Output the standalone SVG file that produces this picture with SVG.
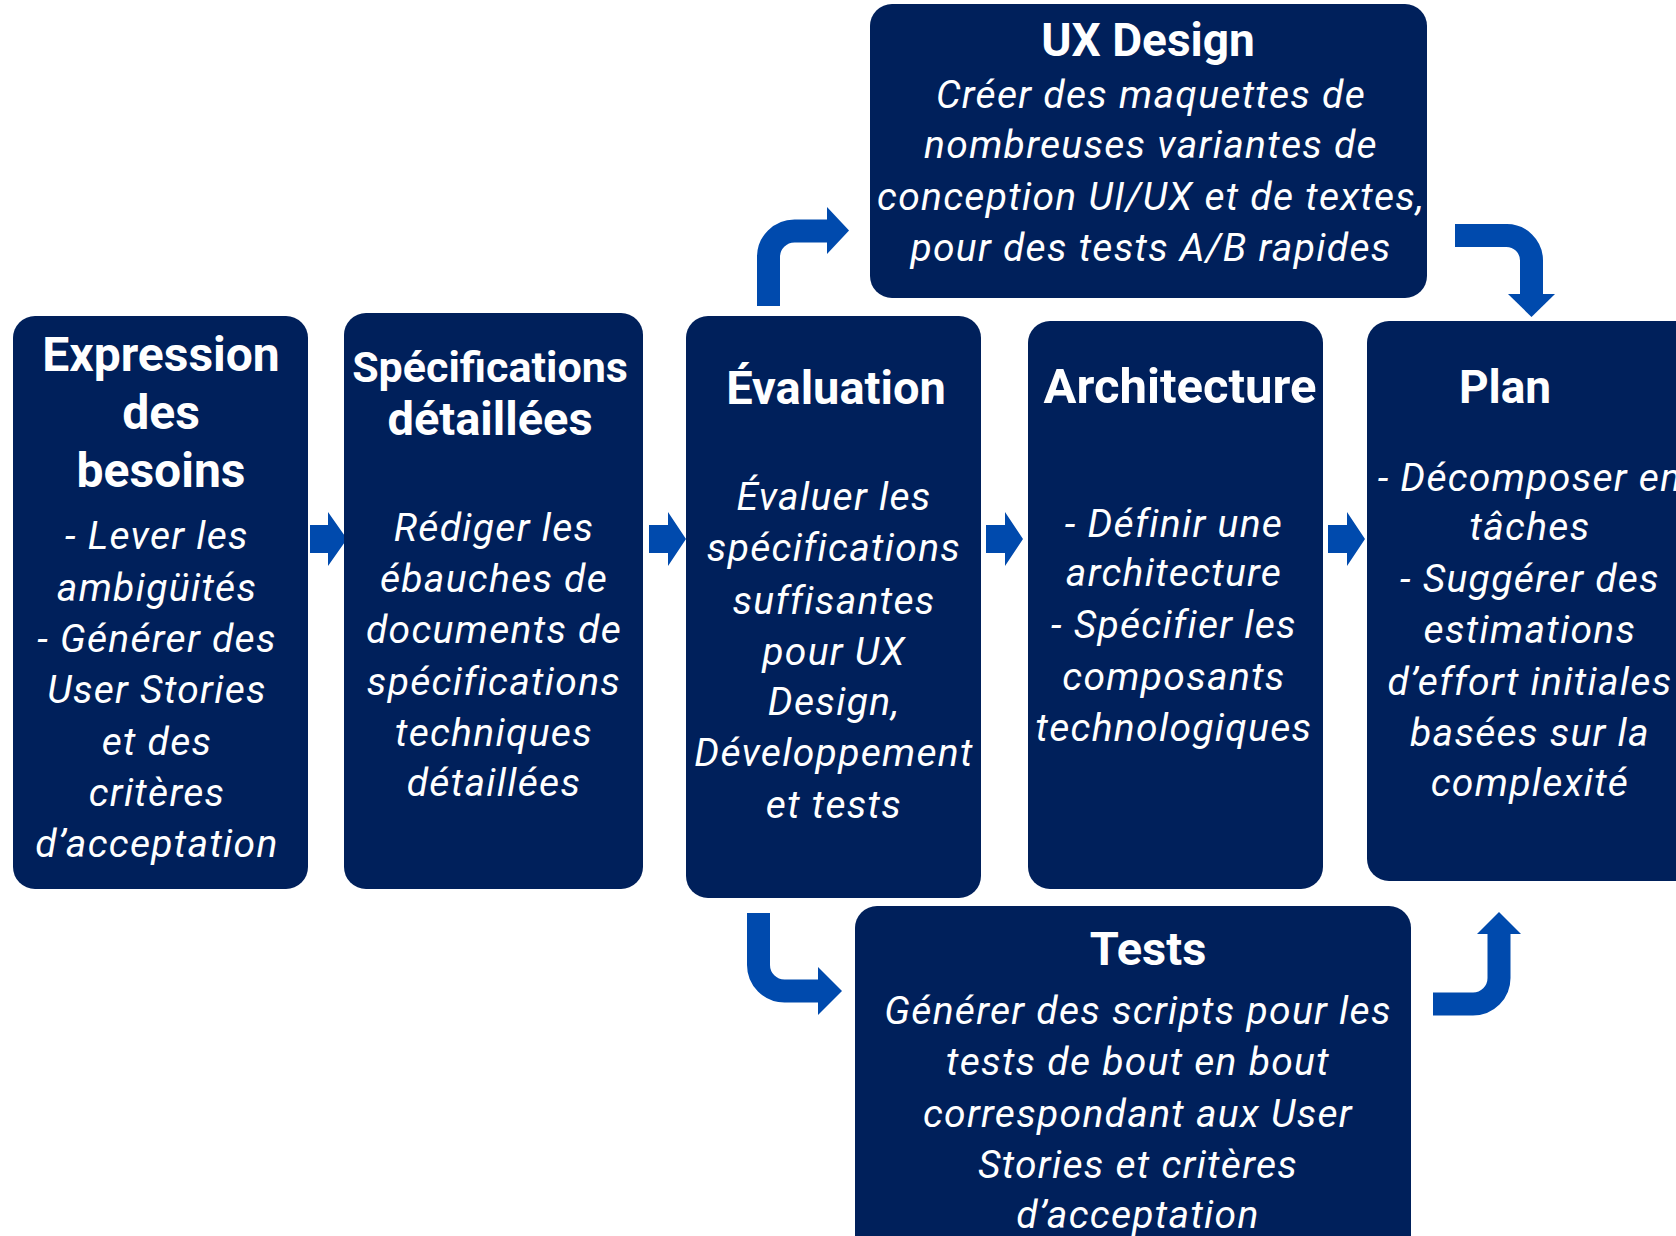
<svg xmlns="http://www.w3.org/2000/svg" width="1676" height="1236" viewBox="0 0 1676 1236">
<defs>
<style>
.box{fill:#00205B;}
.t{font-family:Roboto,"Liberation Sans",sans-serif;font-weight:700;fill:#fff;text-anchor:middle;}
.b{font-family:Roboto,"Liberation Sans",sans-serif;font-style:italic;font-weight:400;font-size:39px;letter-spacing:1.3px;fill:#fff;text-anchor:middle;}
.ar{fill:#004AAD;}
.ab{fill:none;stroke:#004AAD;stroke-width:23;}
</style>
</defs>
<rect width="1676" height="1236" fill="#fff"/>
<g id="connectors">
<path class="ar" d="M310 525 H328 V512 L347 539 L328 566 V553 H310 Z"/>
<path class="ar" d="M649 525 H668 V512 L686 539 L668 566 V553 H649 Z"/>
<path class="ar" d="M986 525 H1005 V512 L1023 539 L1005 566 V553 H986 Z"/>
<path class="ar" d="M1328 525 H1347 V512 L1365 539 L1347 566 V553 H1328 Z"/>
<path class="ab" d="M768.5 306 V257 A26 26 0 0 1 794.5 231 H828"/>
<path class="ar" d="M827 207 L849 230.5 L827 254 Z"/>
<path class="ab" d="M1455 235.5 H1506 A25 25 0 0 1 1531.5 260.5 V295"/>
<path class="ar" d="M1508 294 L1555 294 L1531.5 317 Z"/>
<path class="ab" d="M758.5 913 V965 A26 26 0 0 0 784.5 991 H819"/>
<path class="ar" d="M818 967 L842 991 L818 1015 Z"/>
<path class="ab" d="M1433 1004 H1473 A26 26 0 0 0 1499 978 V933"/>
<path class="ar" d="M1477 934 L1521 934 L1499 912 Z"/>
</g>
<g id="node-expression">
<rect class="box" x="13" y="316" width="295" height="573" rx="22"/>
<text class="t" font-size="48" x="161" y="371">Expression</text>
<text class="t" font-size="48" x="161" y="429">des</text>
<text class="t" font-size="48" x="161" y="487">besoins</text>
<text class="b" x="157" y="549">- Lever les</text>
<text class="b" x="157" y="601">ambigüités</text>
<text class="b" x="157" y="652">- Générer des</text>
<text class="b" x="157" y="703">User Stories</text>
<text class="b" x="157" y="755">et des</text>
<text class="b" x="157" y="806">critères</text>
<text class="b" x="157" y="857">d’acceptation</text>
</g>
<g id="node-specifications">
<rect class="box" x="344" y="313" width="299" height="576" rx="22"/>
<text class="t" font-size="43" x="490" y="382">Spécifications</text>
<text class="t" font-size="47" x="490" y="435">détaillées</text>
<text class="b" x="494" y="541">Rédiger les</text>
<text class="b" x="494" y="592">ébauches de</text>
<text class="b" x="494" y="643">documents de</text>
<text class="b" x="494" y="695">spécifications</text>
<text class="b" x="494" y="746">techniques</text>
<text class="b" x="494" y="796">détaillées</text>
</g>
<g id="node-evaluation">
<rect class="box" x="686" y="316" width="295" height="582" rx="22"/>
<text class="t" font-size="47" x="836" y="404">Évaluation</text>
<text class="b" x="834" y="510">Évaluer les</text>
<text class="b" x="834" y="561">spécifications</text>
<text class="b" x="834" y="614">suffisantes</text>
<text class="b" x="834" y="665">pour UX</text>
<text class="b" x="834" y="715">Design,</text>
<text class="b" x="834" y="766">Développement</text>
<text class="b" x="834" y="818">et tests</text>
</g>
<g id="node-architecture">
<rect class="box" x="1028" y="321" width="295" height="568" rx="22"/>
<text class="t" font-size="49" x="1180" y="403">Architecture</text>
<text class="b" x="1174" y="537">- Définir une</text>
<text class="b" x="1174" y="586">architecture</text>
<text class="b" x="1174" y="638">- Spécifier les</text>
<text class="b" x="1174" y="690">composants</text>
<text class="b" x="1174" y="741">technologiques</text>
</g>
<g id="node-plan">
<rect class="box" x="1367" y="321" width="340" height="560" rx="22"/>
<text class="t" font-size="46" x="1505" y="403">Plan</text>
<text class="b" x="1530" y="491">- Décomposer en</text>
<text class="b" x="1530" y="540">tâches</text>
<text class="b" x="1530" y="592">- Suggérer des</text>
<text class="b" x="1530" y="643">estimations</text>
<text class="b" x="1530" y="695">d’effort initiales</text>
<text class="b" x="1530" y="746">basées sur la</text>
<text class="b" x="1530" y="796">complexité</text>
</g>
<g id="node-ux">
<rect class="box" x="870" y="4" width="557" height="294" rx="22"/>
<text class="t" font-size="46" x="1148" y="56">UX Design</text>
<text class="b" x="1151" y="108">Créer des maquettes de</text>
<text class="b" x="1151" y="158">nombreuses variantes de</text>
<text class="b" x="1151" y="210">conception UI/UX et de textes,</text>
<text class="b" x="1151" y="261">pour des tests A/B rapides</text>
</g>
<g id="node-tests">
<rect class="box" x="855" y="906" width="556" height="360" rx="22"/>
<text class="t" font-size="47" x="1148" y="965">Tests</text>
<text class="b" x="1138" y="1024">Générer des scripts pour les</text>
<text class="b" x="1138" y="1075">tests de bout en bout</text>
<text class="b" x="1138" y="1127">correspondant aux User</text>
<text class="b" x="1138" y="1178">Stories et critères</text>
<text class="b" x="1138" y="1228">d’acceptation</text>
</g>
</svg>
